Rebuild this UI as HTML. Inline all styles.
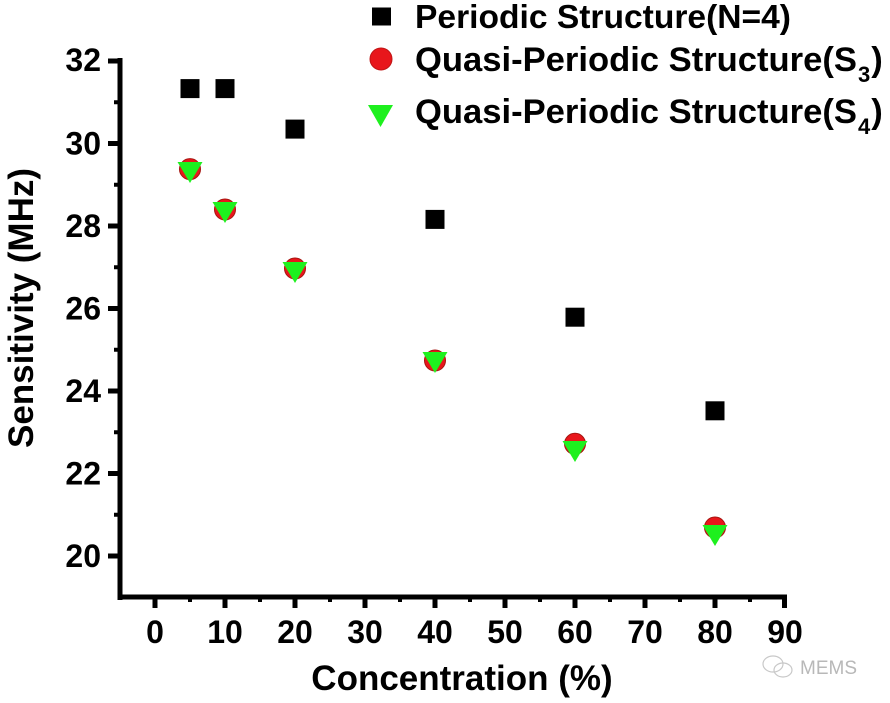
<!DOCTYPE html>
<html>
<head>
<meta charset="utf-8">
<style>
html,body{margin:0;padding:0;background:#fff;}
svg{display:block;}
text{font-family:"Liberation Sans",Arial,sans-serif;font-weight:bold;fill:#000;}
</style>
</head>
<body>
<svg width="890" height="703" viewBox="0 0 890 703" xmlns="http://www.w3.org/2000/svg">
  <rect width="890" height="703" fill="#fff"/>

  <!-- axes -->
  <line x1="120" y1="58" x2="120" y2="600" stroke="#000" stroke-width="5"/>
  <line x1="117.5" y1="597" x2="787" y2="597" stroke="#000" stroke-width="5"/>

  <!-- y major ticks -->
  <g stroke="#000" stroke-width="5">
    <line x1="108" y1="556" x2="120" y2="556"/>
    <line x1="108" y1="473.5" x2="120" y2="473.5"/>
    <line x1="108" y1="391" x2="120" y2="391"/>
    <line x1="108" y1="308.5" x2="120" y2="308.5"/>
    <line x1="108" y1="226" x2="120" y2="226"/>
    <line x1="108" y1="143.5" x2="120" y2="143.5"/>
    <line x1="108" y1="61" x2="120" y2="61"/>
  </g>
  <!-- y minor ticks -->
  <g stroke="#000" stroke-width="4">
    <line x1="114" y1="514.75" x2="120" y2="514.75"/>
    <line x1="114" y1="432.25" x2="120" y2="432.25"/>
    <line x1="114" y1="349.75" x2="120" y2="349.75"/>
    <line x1="114" y1="267.25" x2="120" y2="267.25"/>
    <line x1="114" y1="184.75" x2="120" y2="184.75"/>
    <line x1="114" y1="102.25" x2="120" y2="102.25"/>
  </g>

  <!-- x major ticks -->
  <g stroke="#000" stroke-width="5">
    <line x1="155" y1="597" x2="155" y2="608"/>
    <line x1="225" y1="597" x2="225" y2="608"/>
    <line x1="295" y1="597" x2="295" y2="608"/>
    <line x1="365" y1="597" x2="365" y2="608"/>
    <line x1="435" y1="597" x2="435" y2="608"/>
    <line x1="505" y1="597" x2="505" y2="608"/>
    <line x1="575" y1="597" x2="575" y2="608"/>
    <line x1="645" y1="597" x2="645" y2="608"/>
    <line x1="715" y1="597" x2="715" y2="608"/>
    <line x1="784.5" y1="597" x2="784.5" y2="608"/>
  </g>
  <!-- x minor ticks -->
  <g stroke="#000" stroke-width="4">
    <line x1="190" y1="597" x2="190" y2="602"/>
    <line x1="260" y1="597" x2="260" y2="602"/>
    <line x1="330" y1="597" x2="330" y2="602"/>
    <line x1="400" y1="597" x2="400" y2="602"/>
    <line x1="470" y1="597" x2="470" y2="602"/>
    <line x1="540" y1="597" x2="540" y2="602"/>
    <line x1="610" y1="597" x2="610" y2="602"/>
    <line x1="680" y1="597" x2="680" y2="602"/>
    <line x1="750" y1="597" x2="750" y2="602"/>
  </g>

  <!-- y tick labels -->
  <g font-size="32" text-anchor="end">
    <text x="101" y="567">20</text>
    <text x="101" y="484.5">22</text>
    <text x="101" y="402">24</text>
    <text x="101" y="319.5">26</text>
    <text x="101" y="237">28</text>
    <text x="101" y="154.5">30</text>
    <text x="101" y="71">32</text>
  </g>

  <!-- x tick labels -->
  <g font-size="32" text-anchor="middle">
    <text x="155" y="643">0</text>
    <text x="225" y="643">10</text>
    <text x="295" y="643">20</text>
    <text x="365" y="643">30</text>
    <text x="435" y="643">40</text>
    <text x="505" y="643">50</text>
    <text x="575" y="643">60</text>
    <text x="645" y="643">70</text>
    <text x="715" y="643">80</text>
    <text x="785" y="643">90</text>
  </g>

  <!-- axis titles -->
  <text x="462" y="690" font-size="35" text-anchor="middle">Concentration (%)</text>
  <text transform="translate(33,308) rotate(-90)" font-size="35" text-anchor="middle">Sensitivity (MHz)</text>

  <!-- Periodic squares -->
  <g fill="#000">
    <rect x="180.5" y="79.1" width="19" height="19"/>
    <rect x="215.5" y="79.1" width="19" height="19"/>
    <rect x="285.5" y="119.6" width="19" height="19"/>
    <rect x="425.5" y="209.9" width="19" height="19"/>
    <rect x="565.5" y="307.7" width="19" height="19"/>
    <rect x="705.5" y="401.3" width="19" height="19"/>
  </g>

  <!-- S3 circles -->
  <g fill="#e8161b" stroke="#a51510" stroke-width="1">
    <circle cx="190" cy="169.1" r="10.5"/>
    <circle cx="225" cy="209.5" r="10.5"/>
    <circle cx="295" cy="268.5" r="10.5"/>
    <circle cx="435" cy="360.5" r="10.5"/>
    <circle cx="575" cy="443.8" r="10.5"/>
    <circle cx="715" cy="527.5" r="10.5"/>
  </g>

  <!-- S4 triangles -->
  <g fill="#1ef01e">
    <polygon points="177.5,162 202.5,162 190,183"/>
    <polygon points="212.5,202 237.5,202 225,223"/>
    <polygon points="282.5,262 307.5,262 295,283"/>
    <polygon points="422.5,352 447.5,352 435,373"/>
    <polygon points="562.5,441 587.5,441 575,462"/>
    <polygon points="702.5,525 727.5,525 715,546"/>
  </g>

  <!-- legend -->
  <rect x="372" y="7.5" width="19" height="18" fill="#000"/>
  <text x="415" y="28" font-size="33.6">Periodic Structure(N=4)</text>

  <circle cx="381" cy="59" r="11" fill="#e8161b" stroke="#c01515" stroke-width="1"/>
  <text x="415" y="71" font-size="34.6">Quasi-Periodic Structure(S<tspan font-size="22" dx="1" dy="11">3</tspan><tspan dx="1" dy="-11">)</tspan></text>

  <polygon points="368,105 393,105 380.5,127" fill="#1ef01e"/>
  <text x="415" y="123" font-size="34.6">Quasi-Periodic Structure(S<tspan font-size="22" dx="1" dy="11">4</tspan><tspan dx="1" dy="-11">)</tspan></text>

  <!-- watermark -->
  <g fill="none" stroke="#c8c8c8" stroke-width="1.2">
    <ellipse cx="773" cy="664" rx="10" ry="8"/>
    <ellipse cx="783" cy="670" rx="9" ry="7"/>
  </g>
  <text x="800" y="674" font-size="19" style="font-weight:normal;fill:#b8b8b8;">MEMS</text>
</svg>
</body>
</html>
